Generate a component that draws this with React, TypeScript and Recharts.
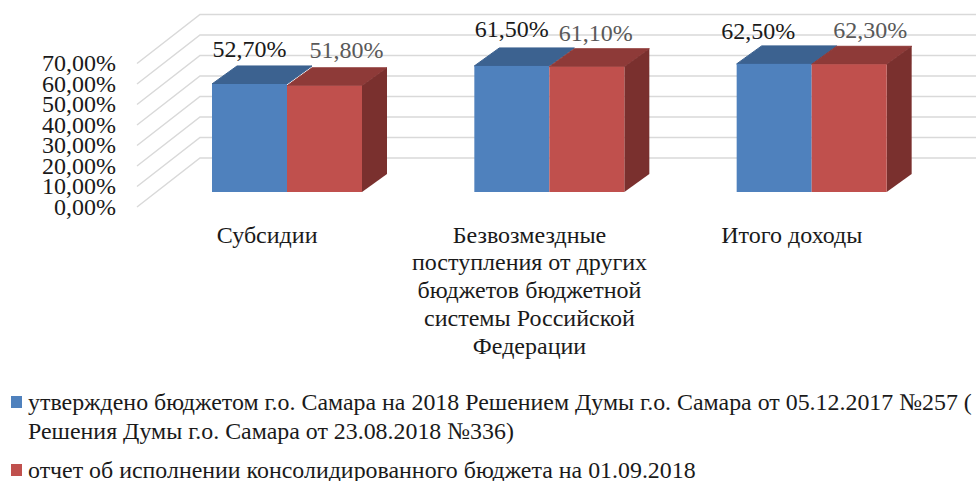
import { BarChart, Bar, XAxis, YAxis, CartesianGrid, Legend, LabelList } from "recharts";

const categories = ["Субсидии", "Безвозмездные\nпоступления от других\nбюджетов бюджетной\nсистемы Российской\nФедерации", "Итого доходы"];
const approved = [52.7, 61.5, 62.5];
const reported = [51.8, 61.1, 62.3];
const yTicks = [0, 10, 20, 30, 40, 50, 60, 70];
const approvedLegend = ["утверждено бюджетом г.о. Самара на 2018 Решением Думы г.о. Самара от 05.12.2017 №257 (", "Решения Думы г.о. Самара от 23.08.2018 №336)"];
const reportedLegend = ["отчет об исполнении консолидированного бюджета на 01.09.2018"];

// Labels in the source sit by hand, not centred over the bars.
const approvedNudge = [{ x: 0, y: 0 }, { x: 0, y: -2 }, { x: -16, y: 2 }];
const reportedNudge = [{ x: 22, y: 0 }, { x: 9, y: 2 }, { x: 21, y: 1 }];

const data = categories.map((name, i) => ({ name, approved: approved[i], reported: reported[i] }));

const FONT = '"Liberation Serif", serif';
const DEPTH_X = 25;
const DEPTH_Y = 18;
const pct = (v: number) => `${v.toFixed(2).replace(".", ",")}%`;

// Front face and lid of a bar; only the last series shows its right side.
function Box({ x, y, width, height, fill, lid, side }: any) {
  return (
    <g>
      <polygon points={`${x},${y} ${x + DEPTH_X},${y - DEPTH_Y} ${x + width + DEPTH_X},${y - DEPTH_Y} ${x + width},${y}`} fill={lid} stroke={lid} strokeWidth={1} />
      {side && (
        <polygon points={`${x + width},${y} ${x + width + DEPTH_X},${y - DEPTH_Y} ${x + width + DEPTH_X},${y + height - DEPTH_Y} ${x + width},${y + height}`} fill={side} />
      )}
      <rect x={x} y={y} width={width} height={height} fill={fill} />
    </g>
  );
}

// Gridline runs along the side wall and then along the back wall.
function WallLine({ y1 }: any) {
  return <polyline points={`137,${y1 + 15} 200,${y1 - 34} 976,${y1 - 34}`} fill="none" stroke="#d9d9d9" strokeWidth={1.5} />;
}

function YTick({ y, payload }: any) {
  return (
    <text x={116} y={y + 15} dy="0.32em" textAnchor="end" fontFamily={FONT} fontSize={24} fill="#1a1a1a">
      {pct(payload.value)}
    </text>
  );
}

function XTick({ x, payload }: any) {
  return (
    <text textAnchor="middle" fontFamily={FONT} fontSize={24} fill="#1a1a1a">
      {String(payload.value).split("\n").map((line, i) => (
        <tspan key={i} x={x - 20} y={235 + i * 27.8} dy="0.32em">{line}</tspan>
      ))}
    </text>
  );
}

function valueLabel(nudge: { x: number; y: number }[], color: string) {
  return ({ x, y, width, value, index }: any) => (
    <text x={x + width / 2 + nudge[index].x} y={y - 35 + nudge[index].y} dy="0.32em" textAnchor="middle" fontFamily={FONT} fontSize={24} fill={color}>
      {pct(value)}
    </text>
  );
}

function LegendBlock() {
  const rows = [
    { color: "#4f81bd", lines: approvedLegend, top: 0 },
    { color: "#c0504d", lines: reportedLegend, top: 68 },
  ];
  return (
    <div style={{ position: "relative", width: 976, height: 93 }}>
      {rows.map((r) => (
        <div key={r.color} style={{ position: "absolute", left: 0, top: r.top, width: 976, fontFamily: FONT, fontSize: 23.9, lineHeight: "29px", color: "#1a1a1a", whiteSpace: "nowrap" }}>
          <span style={{ position: "absolute", left: 11, top: 8, width: 11, height: 12, background: r.color }} />
          {r.lines.map((l) => (
            <div key={l} style={{ paddingLeft: 28 }}>{l}</div>
          ))}
        </div>
      ))}
    </div>
  );
}

export default function App() {
  return (
    <div style={{ position: "absolute", left: 0, top: 0, width: 976, height: 481, overflow: "hidden", background: "#fff" }}>
      <BarChart width={976} height={481} data={data} barSize={75} barGap={0} margin={{ top: 48.5, right: 33, left: 0, bottom: 0 }}>
        <CartesianGrid vertical={false} horizontal={WallLine as any} />
        <XAxis dataKey="name" height={196} axisLine={false} tickLine={false} interval={0} tick={XTick as any} />
        <YAxis width={156} domain={[0, 70]} ticks={yTicks} interval={0} axisLine={false} tickLine={false} tick={YTick as any} />
        <Legend content={LegendBlock as any} wrapperStyle={{ left: 0, top: 388, width: 976, height: 93 }} />
        <Bar dataKey="approved" isAnimationActive={false} shape={(p: any) => <Box {...p} fill="#4f81bd" lid="#3c6290" />}>
          <LabelList dataKey="approved" content={valueLabel(approvedNudge, "#1a1a1a") as any} />
        </Bar>
        <Bar dataKey="reported" isAnimationActive={false} shape={(p: any) => <Box {...p} fill="#c0504d" lid="#8e3a38" side="#7a302e" />}>
          <LabelList dataKey="reported" content={valueLabel(reportedNudge, "#595959") as any} />
        </Bar>
      </BarChart>
    </div>
  );
}
